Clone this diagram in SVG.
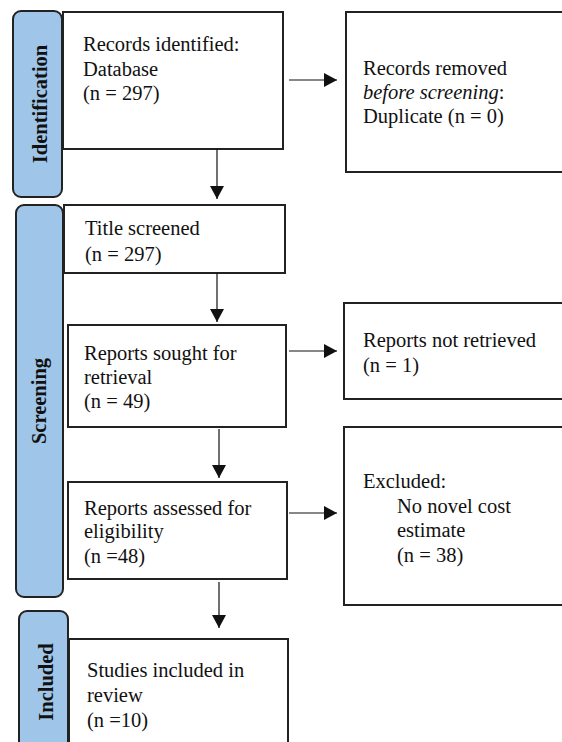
<svg xmlns="http://www.w3.org/2000/svg" width="562" height="742" viewBox="0 0 562 742">
<style>
.box{fill:#fff;stroke:#222;stroke-width:2}
.side{fill:#9fc5e8;stroke:#222;stroke-width:2}
.t{font-family:"Liberation Serif","Times New Roman",serif;font-size:20.5px;fill:#111}
.lab{font-family:"Liberation Serif","Times New Roman",serif;font-size:20.5px;font-weight:bold;fill:#111;text-anchor:middle}
.c{stroke:#111;stroke-width:1.2;fill:none;marker-end:url(#ah)}
</style>
<defs>
<marker id="ah" viewBox="0 0 13 14" refX="13" refY="7" markerWidth="13" markerHeight="14" markerUnits="userSpaceOnUse" orient="auto">
<path d="M0,0 L13,7 L0,14 Z" fill="#111"/>
</marker>
</defs>
<rect width="562" height="742" fill="#fff"/>
<g id="phase-identification">
<rect class="side" x="13" y="11" width="49" height="186" rx="8"/>
<text class="lab" transform="translate(47,104) rotate(-90)">Identification</text>
</g>
<g id="phase-screening">
<rect class="side" x="16" y="205" width="47" height="392" rx="8"/>
<text class="lab" transform="translate(46,401) rotate(-90)">Screening</text>
</g>
<g id="phase-included">
<rect class="side" x="19" y="611" width="49" height="150" rx="8"/>
<text class="lab" transform="translate(53,682) rotate(-90)">Included</text>
</g>
<g id="records-identified">
<rect class="box" x="63" y="12" width="220" height="137"/>
<text class="t" x="83" y="51">Records identified:</text>
<text class="t" x="83" y="76">Database</text>
<text class="t" x="83" y="100">(n = 297)</text>
</g>
<g id="records-removed">
<rect class="box" x="346" y="12" width="220" height="160"/>
<text class="t" x="363" y="75">Records removed</text>
<text class="t" x="363" y="99"><tspan font-style="italic">before screening</tspan>:</text>
<text class="t" x="363" y="123">Duplicate (n = 0)</text>
</g>
<g id="title-screened">
<rect class="box" x="64" y="205" width="221" height="68"/>
<text class="t" x="85" y="235">Title screened</text>
<text class="t" x="85" y="261">(n = 297)</text>
</g>
<g id="reports-sought">
<rect class="box" x="68" y="325" width="218" height="102"/>
<text class="t" x="84" y="360">Reports sought for</text>
<text class="t" x="84" y="384">retrieval</text>
<text class="t" x="84" y="408">(n = 49)</text>
</g>
<g id="reports-not-retrieved">
<rect class="box" x="344" y="303" width="222" height="96"/>
<text class="t" x="363" y="347">Reports not retrieved</text>
<text class="t" x="363" y="372">(n = 1)</text>
</g>
<g id="reports-assessed">
<rect class="box" x="68" y="482" width="219" height="97"/>
<text class="t" x="84" y="515">Reports assessed for</text>
<text class="t" x="84" y="538">eligibility</text>
<text class="t" x="84" y="563">(n =48)</text>
</g>
<g id="excluded">
<rect class="box" x="344" y="427" width="222" height="178"/>
<text class="t" x="363" y="488">Excluded:</text>
<text class="t" x="397" y="513">No novel cost</text>
<text class="t" x="397" y="537">estimate</text>
<text class="t" x="397" y="562">(n = 38)</text>
</g>
<g id="studies-included">
<rect class="box" x="69" y="639" width="219" height="120"/>
<text class="t" x="87" y="677">Studies included in</text>
<text class="t" x="87" y="702">review</text>
<text class="t" x="87" y="727">(n =10)</text>
</g>
<g id="connectors">
<line class="c" x1="217" y1="149" x2="217" y2="199"/>
<line class="c" x1="289" y1="80" x2="337" y2="80"/>
<line class="c" x1="217" y1="273" x2="217" y2="322"/>
<line class="c" x1="219" y1="429" x2="219" y2="478"/>
<line class="c" x1="289" y1="351" x2="337" y2="351"/>
<line class="c" x1="289" y1="513" x2="337" y2="513"/>
<line class="c" x1="219" y1="582" x2="219" y2="628"/>
</g>
</svg>
